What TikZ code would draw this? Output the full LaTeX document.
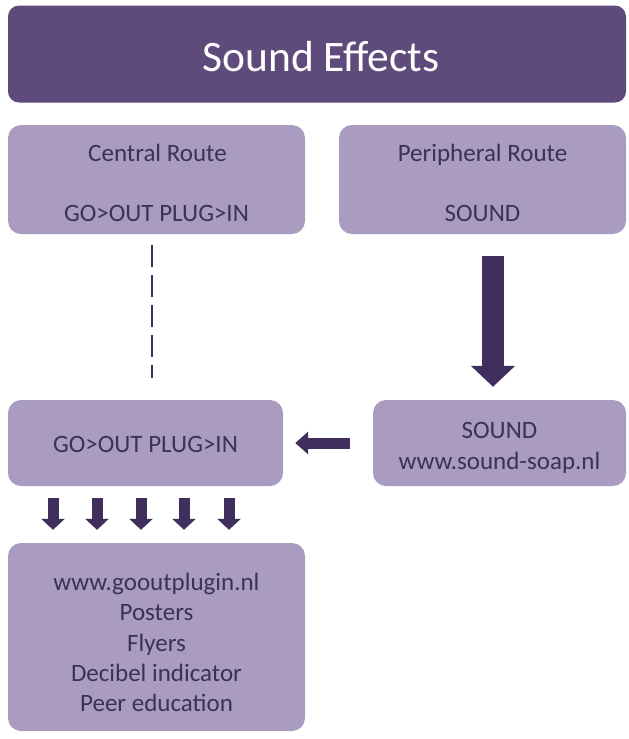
\documentclass[tikz,border=0pt]{standalone}
\usepackage{fontspec}
\setmainfont{Carlito}
\usetikzlibrary{arrows.meta}
\definecolor{headfill}{HTML}{5E4A7B}
\definecolor{boxfill}{HTML}{A99CC0}
\definecolor{arrowc}{HTML}{402F5C}
\definecolor{txtc}{HTML}{3D3252}
\tikzset{
  header/.style={fill=headfill, draw=none, rounded corners=11pt, inner sep=0pt},
  box/.style={fill=boxfill, draw=none, rounded corners=13pt, inner sep=0pt},
  boxtxt/.style={text=txtc, font=\fontsize{25}{30}\selectfont, anchor=base, inner sep=0pt},
  bigarr/.style={draw=arrowc, line width=22pt, -{Triangle[width=43pt,length=21pt]}},
  midarr/.style={draw=arrowc, line width=11pt, -{Triangle[width=22pt,length=13pt]}},
  smallarr/.style={draw=arrowc, line width=11pt, -{Triangle[width=23pt,length=11pt]}},
  dashline/.style={draw=arrowc, line width=2.7pt, dash pattern=on 22pt off 8pt}
}
\begin{document}
\begin{tikzpicture}[x=1pt,y=-1pt]
\useasboundingbox (0,0) rectangle (629,739);
% header
\node[header, minimum width=618pt, minimum height=97pt] (head) at (317,54) {};
\node[text=white, font=\fontsize{43.5}{50}\selectfont, anchor=base, inner sep=0pt] (headtxt) at (321,71) {Sound Effects};
% top boxes
\node[box, minimum width=297pt, minimum height=109pt] (cen) at (156.5,179.5) {};
\node[boxtxt] (centxt1) at (157.5,161) {Central Route};
\node[boxtxt] (centxt2) at (156.5,221) {GO>OUT PLUG>IN};
\node[box, minimum width=287pt, minimum height=109pt] (per) at (482.5,179.5) {};
\node[boxtxt] (pertxt1) at (482.5,161) {Peripheral Route};
\node[boxtxt] (pertxt2) at (482.5,221) {SOUND};
% middle boxes
\node[box, minimum width=275pt, minimum height=86pt] (mid) at (145.5,443) {};
\node[boxtxt] (midtxt) at (145.5,452) {GO>OUT PLUG>IN};
\node[box, minimum width=253pt, minimum height=86pt] (snd) at (499.5,443) {};
\node[boxtxt] (sndtxt1) at (499.5,438) {SOUND};
\node[boxtxt] (sndtxt2) at (499.5,469) {www.sound-soap.nl};
% bottom box
\node[box, minimum width=297pt, minimum height=188pt] (bot) at (156.5,637) {};
\node[boxtxt] (b1) at (156.5,590) {www.gooutplugin.nl};
\node[boxtxt] (b2) at (156.5,620) {Posters};
\node[boxtxt] (b3) at (156.5,651) {Flyers};
\node[boxtxt] (b4) at (156.5,681) {Decibel indicator};
\node[boxtxt] (b5) at (156.5,711) {Peer education};
% connectors
\draw[dashline] ([xshift=-4.5pt,yshift=-11pt]cen.south) -- ([xshift=6.5pt,yshift=22pt]mid.north);
\draw[bigarr] ([xshift=10.5pt,yshift=-22pt]per.south) -- ([xshift=-6.5pt,yshift=13pt]snd.north);
\draw[midarr] ([xshift=-23pt]snd.west) -- ([xshift=12pt]mid.east);
\foreach \xx in {53,97,141,184,229} {
  \draw[smallarr] ([yshift=-12pt]mid.south -| \xx,0) -- ([yshift=13pt]bot.north -| \xx,0);
}
\end{tikzpicture}
\end{document}
